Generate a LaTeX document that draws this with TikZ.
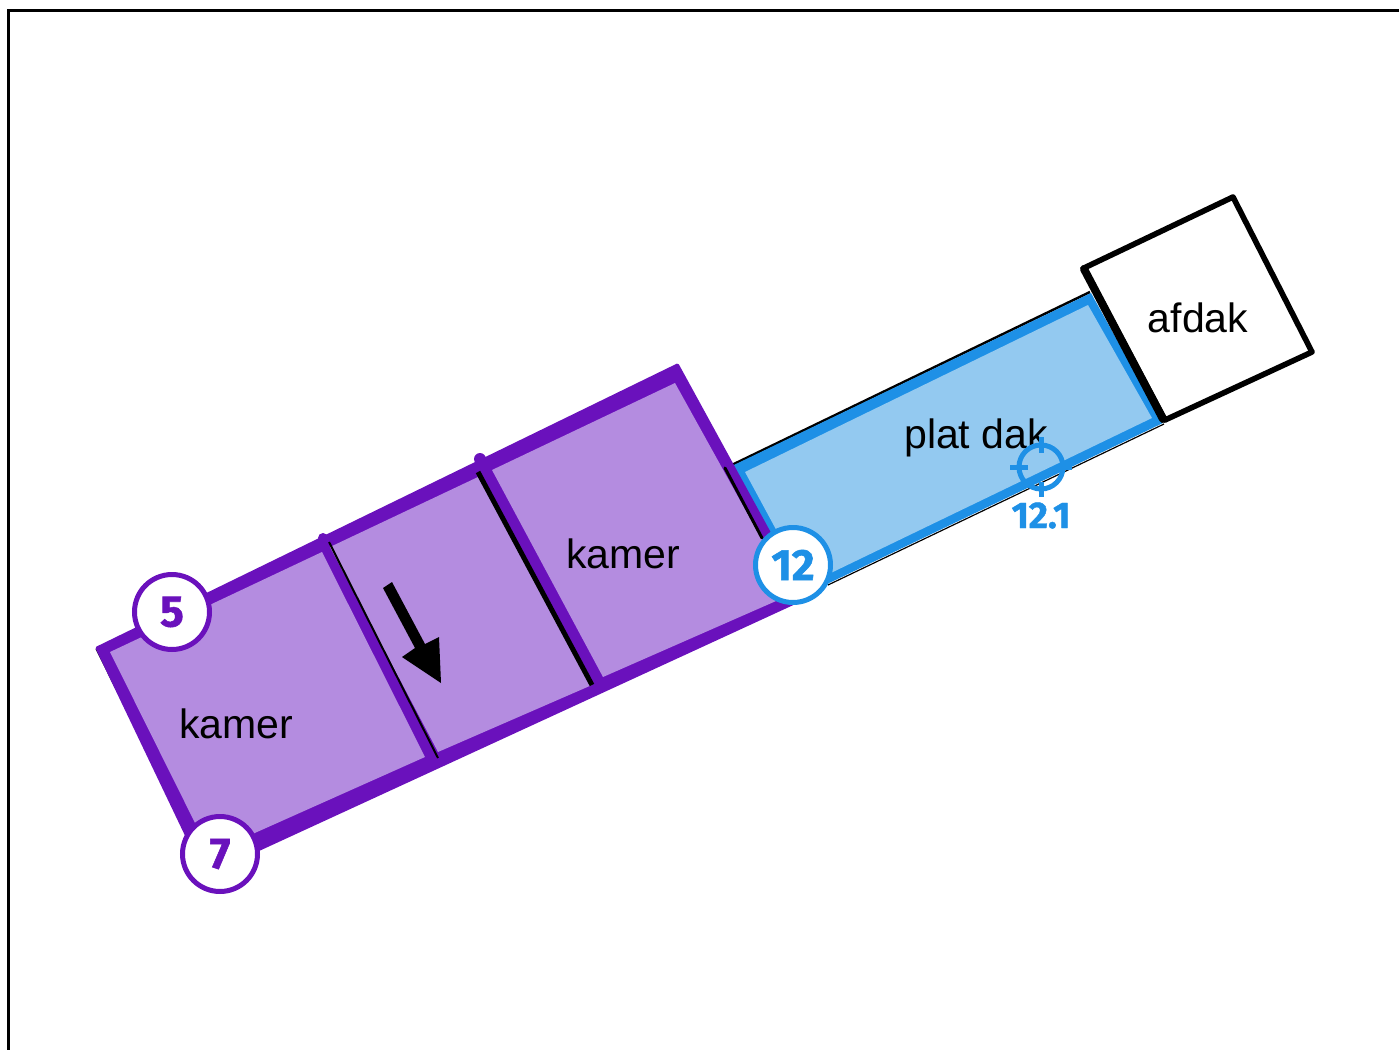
\documentclass[tikz,border=0pt]{standalone}
\usepackage{fontspec}
\setmainfont{Liberation Sans}
\newfontfamily\numfont[BoldFeatures={FakeBold=1.2}]{Fira Sans}
\definecolor{pdark}{HTML}{6A11BC}
\definecolor{plight}{HTML}{B48CE0}
\definecolor{bdark}{HTML}{1E90E6}
\definecolor{blight}{HTML}{93C9F0}
\tikzset{
  x=0.5pt,y=-0.5pt,
  roomlabel/.style={anchor=base,inner sep=0pt,font=\fontsize{20.5}{24}\selectfont},
  badge/.style={circle,draw=#1,fill=white,line width=2.5pt,minimum size=37.5pt,inner sep=0pt,text=#1,font=\numfont\bfseries\fontsize{22}{24}\selectfont},
  blackwall/.style={draw=black,line join=round,line cap=round}
}
\begin{document}
\begin{tikzpicture}
\useasboundingbox (0,0) rectangle (1399,1050);
% frame
\draw[black,line width=1.5pt] (8.5,1050) -- (8.5,10.5) -- (1399,10.5);
% afdak
\filldraw[fill=white,draw=black,line width=2.8pt,line join=round] (1084,268) -- (1233,197) -- (1312,352) -- (1165,420) -- cycle;
% plat dak
\draw[black,line width=1.25pt] (725,468.3) -- (1090,292);
\draw[black,line width=.6pt] (1164,424) -- (828,585);
\fill[bdark] (727,468.3) -- (1091,293) -- (1163,423) -- (800,597) -- cycle;
\fill[blight] (745,472) -- (1088,305) -- (1152,418) -- (806,585) -- cycle;
\draw[blackwall,line width=4pt] (1084,269) -- (1163,419);
% kamers
\draw[black,line width=.5pt] (96,649) -- (189,836);
\filldraw[draw=pdark,fill=pdark,line width=1.5pt,line join=round] (97,648) -- (677.5,365) -- (805,598) -- (262,848) -- (205,874) -- cycle;
\fill[pdark] (480,459) circle[radius=6];
\fill[pdark] (323,538) circle[radius=5];
\fill[plight] (110,652) -- (322,552) -- (425,757) -- (210,853) -- cycle;
\fill[plight] (330,547) -- (478,477) -- (592,685) -- (438,752) -- cycle;
\fill[plight] (492,470) -- (675,383) -- (792,594) -- (603,677) -- cycle;
\draw[black,line width=1pt] (329,542) -- (438,758);
\draw[black,line width=2.5pt] (478,472) -- (592,685);
\draw[blackwall,line width=1.5pt] (725,468) -- (762,538);
% arrow
\fill[black] (383,588) -- (392,582) -- (425,644) -- (439,637) -- (441,683) -- (402,657) -- (415,648) -- cycle;
% labels
\node[roomlabel] (k1) at (236,738) {kamer};
\node[roomlabel] (k2) at (623,568) {kamer};
\node[roomlabel] (pd) at (976,448.5) {plat dak};
\node[roomlabel] (af) at (1198,332.5) {afdak};
% target
\draw[bdark,line width=2.5pt] (1041,467) circle[radius=22];
\draw[bdark,line width=2.5pt] (1041,437) -- (1041,453) (1041,482) -- (1041,497) (1010,467) -- (1028,467) (1055,467) -- (1072,467);
\node[anchor=base,inner sep=0pt,text=bdark,font=\numfont\bfseries\fontsize{18.5}{22}\selectfont] (t) at (1041,528) {12.1};
% badges
\node[badge=pdark] (b5) at (172,612) {\raisebox{-0.5pt}{5}};
\node[badge=pdark] (b7) at (220,854) {\raisebox{-1pt}{7}};
\node[badge=bdark] (b12) at (793,565) {12};
\end{tikzpicture}
\end{document}
